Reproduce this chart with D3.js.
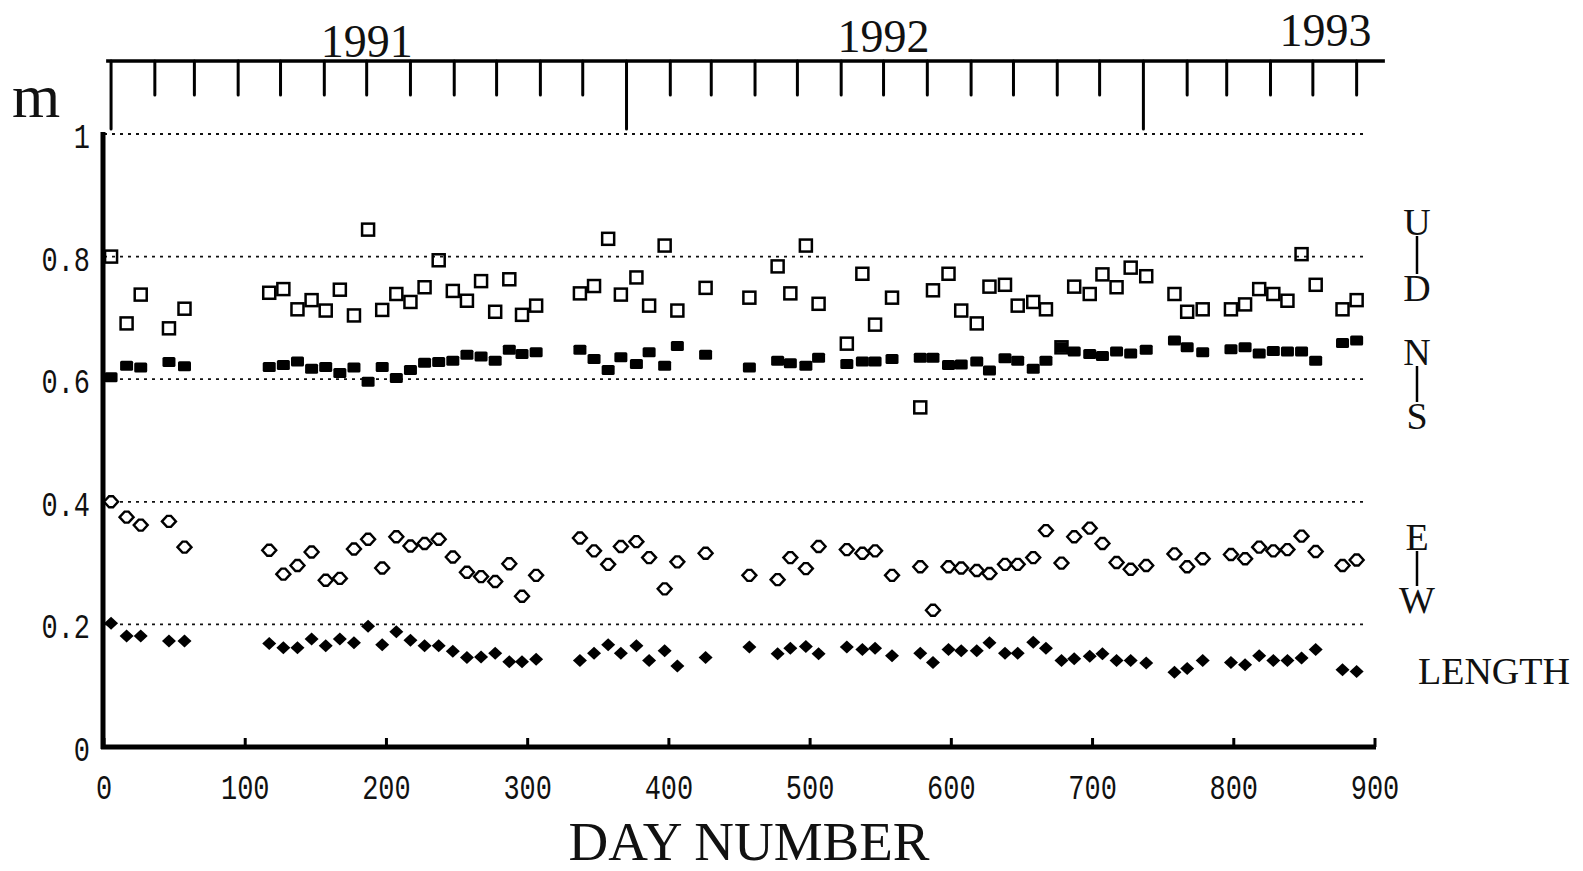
<!DOCTYPE html>
<html>
<head>
<meta charset="utf-8">
<script src="https://cdn.jsdelivr.net/npm/d3@7"></script>
<style>
  html, body { margin: 0; padding: 0; background: #fff; }
  svg { display: block; }
  .mono { font-family: "Liberation Mono", "DejaVu Sans Mono", monospace; font-size: 35px; fill: #111; }
  .serif { font-family: "Liberation Serif", "DejaVu Serif", serif; fill: #111; }
</style>
</head>
<body>
<svg id="chart" width="1583" height="871"></svg>
<script>
// measurement epochs (day number) shared by all four series
const days = [5, 16, 26, 46, 57,
  117, 127, 137, 147, 157, 167, 177, 187, 197, 207, 217, 227, 237, 247, 257, 267, 277, 287, 296,
  306, 337, 347, 357, 366, 377, 386, 397, 406, 426, 457, 477, 486, 497, 506,
  526, 537, 546, 558, 578, 587, 598,
  607, 618, 627, 638, 647, 658, 667, 678, 687, 698, 707, 717, 727, 738,
  758, 767, 778, 798, 808, 818, 828, 838, 848, 858, 877, 887];

// U-D component (open squares)
const udValues = [0.800, 0.691, 0.738, 0.683, 0.715,
  0.741, 0.747, 0.714, 0.729, 0.712, 0.746, 0.704, 0.844, 0.713, 0.739, 0.726, 0.750, 0.794, 0.744, 0.728, 0.760, 0.710, 0.763, 0.705,
  0.720, 0.740, 0.752, 0.829, 0.738, 0.766, 0.720, 0.818, 0.712, 0.749, 0.733, 0.784, 0.740, 0.818, 0.723,
  0.658, 0.772, 0.689, 0.733, 0.554, 0.745, 0.772,
  0.712, 0.691, 0.751, 0.754, 0.720, 0.726, 0.714, 0.652, 0.751, 0.739, 0.771, 0.750, 0.782, 0.768,
  0.739, 0.710, 0.714, 0.714, 0.722, 0.747, 0.739, 0.728, 0.804, 0.754, 0.714, 0.729];

// N-S component (filled squares)
const nsValues = [0.603, 0.622, 0.619, 0.628, 0.621,
  0.620, 0.623, 0.629, 0.617, 0.620, 0.610, 0.619, 0.596, 0.620, 0.602, 0.615, 0.627, 0.628, 0.630, 0.640, 0.637, 0.630, 0.648, 0.641,
  0.644, 0.648, 0.633, 0.615, 0.636, 0.625, 0.644, 0.622, 0.654, 0.640, 0.619, 0.630, 0.626, 0.622, 0.635,
  0.625, 0.629, 0.629, 0.633, 0.635, 0.635, 0.623,
  0.624, 0.629, 0.614, 0.634, 0.630, 0.617, 0.630, 0.652, 0.645, 0.641, 0.638, 0.645, 0.642, 0.648,
  0.663, 0.652, 0.644, 0.649, 0.652, 0.642, 0.646, 0.645, 0.645, 0.630, 0.659, 0.663];

// E-W component (open diamonds)
const ewValues = [0.400, 0.375, 0.362, 0.368, 0.326,
  0.321, 0.282, 0.296, 0.318, 0.272, 0.275, 0.323, 0.339, 0.292, 0.343, 0.328, 0.332, 0.339, 0.310, 0.285, 0.278, 0.270, 0.299, 0.246,
  0.280, 0.341, 0.320, 0.298, 0.327, 0.335, 0.309, 0.258, 0.302, 0.316, 0.280, 0.273, 0.309, 0.291, 0.327,
  0.322, 0.316, 0.320, 0.280, 0.294, 0.223, 0.294,
  0.292, 0.288, 0.283, 0.298, 0.298, 0.309, 0.353, 0.300, 0.343, 0.357, 0.332, 0.301, 0.290, 0.296,
  0.315, 0.294, 0.307, 0.314, 0.307, 0.326, 0.320, 0.322, 0.344, 0.319, 0.296, 0.305];

// baseline length (filled diamonds)
const lengthValues = [0.202, 0.181, 0.181, 0.173, 0.173,
  0.169, 0.162, 0.162, 0.176, 0.165, 0.176, 0.170, 0.197, 0.167, 0.188, 0.174, 0.165, 0.165, 0.156, 0.146, 0.147, 0.153, 0.139, 0.139,
  0.143, 0.141, 0.153, 0.167, 0.153, 0.165, 0.141, 0.157, 0.132, 0.146, 0.163, 0.152, 0.161, 0.164, 0.152,
  0.163, 0.159, 0.161, 0.149, 0.153, 0.138, 0.159,
  0.157, 0.157, 0.170, 0.153, 0.153, 0.171, 0.161, 0.141, 0.144, 0.148, 0.152, 0.141, 0.141, 0.137,
  0.122, 0.128, 0.141, 0.138, 0.134, 0.149, 0.141, 0.141, 0.145, 0.159, 0.126, 0.123];

const xTicks = [0, 100, 200, 300, 400, 500, 600, 700, 800, 900];
const yTicks = [0, 0.2, 0.4, 0.6, 0.8, 1];
const gridValues = [0.2, 0.4, 0.6, 0.8, 1];
const yearLabels = ['1991', '1992', '1993'];
const yearLabelDates = [new Date(1991, 6, 1), new Date(1992, 6, 1), new Date(1993, 4, 10)];
const componentLabels = [['U', 'D'], ['N', 'S'], ['E', 'W']];
const lengthLabel = 'LENGTH';

const svg = d3.select('#chart');
const W = 1583, H = 871;
svg.append('rect').attr('width', W).attr('height', H).attr('fill', '#fff');

const x = d3.scaleLinear().domain([0, 900]).range([104, 1375]);
const y = d3.scaleLinear().domain([0, 1]).range([747, 134]);

// calendar axis on top: Jan 1 1991 falls on day 5
const dayOfJan1991 = 5;
const t = d3.scaleTime()
  .domain([new Date(1991, 0, 1), new Date(1993, 0, 1)])
  .range([x(dayOfJan1991), x(dayOfJan1991 + 731)]);

// dotted reference lines
svg.append('g').selectAll('line').data(gridValues).join('line')
  .attr('x1', x(0)).attr('x2', x(892))
  .attr('y1', d => y(d)).attr('y2', d => y(d))
  .attr('stroke', '#111').attr('stroke-width', 1.8)
  .attr('stroke-dasharray', '3,5');

// left axis
svg.append('line')
  .attr('x1', x(0) - 1).attr('x2', x(0) - 1)
  .attr('y1', y(1) - 2).attr('y2', y(0) + 2)
  .attr('stroke', '#000').attr('stroke-width', 5);

svg.append('g').selectAll('text').data(yTicks).join('text')
  .attr('class', 'mono')
  .attr('text-anchor', 'end')
  .attr('transform', d => `translate(90,${y(d) + 14}) scale(0.77,1)`)
  .text(d => d === 0 ? '0' : d === 1 ? '1' : d3.format('.1f')(d));

// bottom axis
svg.append('line')
  .attr('x1', x(0) - 3).attr('x2', x(900) + 1)
  .attr('y1', y(0)).attr('y2', y(0))
  .attr('stroke', '#000').attr('stroke-width', 5);

svg.append('g').selectAll('line').data(xTicks).join('line')
  .attr('x1', d => x(d)).attr('x2', d => x(d))
  .attr('y1', y(0)).attr('y2', y(0) - 9)
  .attr('stroke', '#000').attr('stroke-width', 3);

svg.append('g').selectAll('text').data(xTicks).join('text')
  .attr('class', 'mono')
  .attr('text-anchor', 'middle')
  .attr('transform', d => `translate(${x(d)},799) scale(0.77,1)`)
  .text(d => d);

svg.append('text')
  .attr('class', 'serif')
  .attr('x', 749).attr('y', 860)
  .attr('text-anchor', 'middle')
  .attr('font-size', 55)
  .text('DAY NUMBER');

svg.append('text')
  .attr('class', 'serif')
  .attr('x', 12).attr('y', 117)
  .attr('font-size', 62)
  .text('m');

// top calendar axis
const topY = 61;
svg.append('line')
  .attr('x1', x(1.5)).attr('x2', x(907))
  .attr('y1', topY).attr('y2', topY)
  .attr('stroke', '#000').attr('stroke-width', 3.5);

const months = d3.timeMonth.range(new Date(1991, 0, 1), new Date(1993, 5, 2));
svg.append('g').selectAll('line').data(months).join('line')
  .attr('x1', d => t(d)).attr('x2', d => t(d))
  .attr('y1', topY)
  .attr('y2', d => d.getMonth() === 0 ? y(1) - 5 : 95)
  .attr('stroke', '#000').attr('stroke-width', 3)
  .attr('stroke-linecap', 'round');

const yearBaselines = [57, 52, 46];
svg.append('g').selectAll('text').data(yearLabels).join('text')
  .attr('class', 'serif')
  .attr('x', (d, i) => t(yearLabelDates[i]))
  .attr('y', (d, i) => yearBaselines[i])
  .attr('text-anchor', 'middle')
  .attr('font-size', 46)
  .text(d => d);

// markers
function points(values) {
  return values.map((v, i) => ({ day: days[i], v }));
}

const lenPath = 'M-7,0L0,-6.5L7,0L0,6.5Z';
const ewPath = 'M-7,0L-2,-5.5L2,-5.5L7,0L2,5.5L-2,5.5Z';

svg.append('g').selectAll('path').data(points(lengthValues)).join('path')
  .attr('d', lenPath)
  .attr('transform', d => `translate(${x(d.day)},${y(d.v)})`)
  .attr('fill', '#000');

svg.append('g').selectAll('path').data(points(ewValues)).join('path')
  .attr('d', ewPath)
  .attr('transform', d => `translate(${x(d.day)},${y(d.v)})`)
  .attr('fill', '#fff').attr('stroke', '#000').attr('stroke-width', 2.4);

svg.append('g').selectAll('rect').data(points(nsValues)).join('rect')
  .attr('x', d => x(d.day) - 6.5).attr('y', d => y(d.v) - 5)
  .attr('width', 13).attr('height', 10).attr('rx', 1.5)
  .attr('fill', '#000');

svg.append('g').selectAll('rect').data(points(udValues)).join('rect')
  .attr('x', d => x(d.day) - 6).attr('y', d => y(d.v) - 6)
  .attr('width', 12).attr('height', 12)
  .attr('fill', 'none').attr('stroke', '#000').attr('stroke-width', 2.5);

// component labels on the right
const labelBaselines = [[235, 301], [365, 429], [550, 613]];
const labelX = 1417;
componentLabels.forEach((pair, i) => {
  const [b1, b2] = labelBaselines[i];
  const g = svg.append('g');
  g.append('text').attr('class', 'serif').attr('font-size', 38)
    .attr('x', labelX).attr('y', b1).attr('text-anchor', 'middle').text(pair[0]);
  g.append('line')
    .attr('x1', labelX).attr('x2', labelX)
    .attr('y1', b1 + 1).attr('y2', b2 - 27)
    .attr('stroke', '#000').attr('stroke-width', 2.5);
  g.append('text').attr('class', 'serif').attr('font-size', 38)
    .attr('x', labelX).attr('y', b2).attr('text-anchor', 'middle').text(pair[1]);
});

svg.append('text')
  .attr('class', 'serif')
  .attr('x', 1418).attr('y', 684)
  .attr('font-size', 38)
  .text(lengthLabel);
</script>
</body>
</html>
